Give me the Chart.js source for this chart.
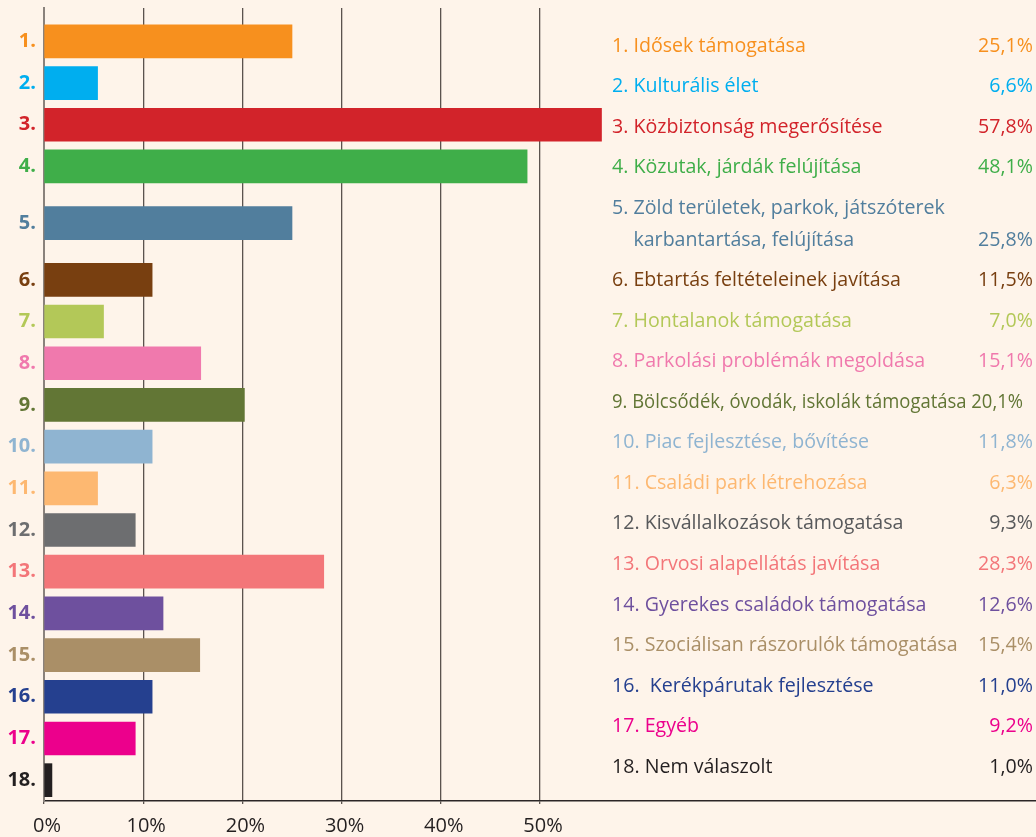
<!DOCTYPE html>
<html lang="hu">
<head>
<meta charset="utf-8">
<title>Fejlesztési igények</title>
<script src="https://cdn.jsdelivr.net/npm/chart.js@4.4.1/dist/chart.umd.min.js"></script>
<style>
    html, body { margin: 0; padding: 0; background: #fef4ea; }
    #wrap { position: relative; width: 1036px; height: 837px; }
</style>
</head>
<body>
<div id="wrap"><canvas id="surveyChart"></canvas></div>
<script>
// Row labels on the left axis
const rowLabels = ['1.', '2.', '3.', '4.', '5.', '6.', '7.', '8.', '9.', '10.',
    '11.', '12.', '13.', '14.', '15.', '16.', '17.', '18.'];

// Bar lengths as drawn (percent)
const barValues = [25.0, 5.4, 56.2, 48.7, 25.0, 10.9, 6.0, 15.8, 20.2, 10.9,
    5.4, 9.2, 28.2, 12.0, 15.7, 10.9, 9.2, 0.8];

// Legend texts (one entry per line) and the printed percentages
const legendNames = [
    ['1. Idősek támogatása'],
    ['2. Kulturális élet'],
    ['3. Közbiztonság megerősítése'],
    ['4. Közutak, járdák felújítása'],
    ['5. Zöld területek, parkok, játszóterek', 'karbantartása, felújítása'],
    ['6. Ebtartás feltételeinek javítása'],
    ['7. Hontalanok támogatása'],
    ['8. Parkolási problémák megoldása'],
    ['9. Bölcsődék, óvodák, iskolák támogatása'],
    ['10. Piac fejlesztése, bővítése'],
    ['11. Családi park létrehozása'],
    ['12. Kisvállalkozások támogatása'],
    ['13. Orvosi alapellátás javítása'],
    ['14. Gyerekes családok támogatása'],
    ['15. Szociálisan rászorulók támogatása'],
    ['16.  Kerékpárutak fejlesztése'],
    ['17. Egyéb'],
    ['18. Nem válaszolt']
];
const legendValues = [25.1, 6.6, 57.8, 48.1, 25.8, 11.5, 7.0, 15.1, 20.1, 11.8,
    6.3, 9.3, 28.3, 12.6, 15.4, 11.0, 9.2, 1.0];

const xTicks = [0, 10, 20, 30, 40, 50];

const colors = ['#f7901e', '#00aeef', '#d2232a', '#3fae49', '#517e9d', '#783f10',
    '#b3c858', '#f079ad', '#627635', '#8fb4d1', '#fdb871', '#6d6e70',
    '#f37679', '#6e509e', '#aa8f67', '#25408f', '#ec008c', '#231f20'];
const textColors = colors.map(function (c, i) {
    return i === 11 ? '#58595b' : c;
});

const fontFamily = '"Open Sans", "Noto Sans", sans-serif';

// a wrapped legend item makes its bar row a bit taller
const wrapExtra = 0.72;
const rowPos = [];
let rowTotal = 0;
legendNames.forEach(function (lines) {
    const h = 1 + (lines.length - 1) * wrapExtra;
    rowPos.push(rowTotal + h / 2);
    rowTotal += h;
});

const fmt = function (v) {
    return v.toFixed(1).replace('.', ',') + '%';
};

const legendPlugin = {
    id: 'sideLegend',
    afterDraw: function (chart) {
        const ctx = chart.ctx;
        const left = 612;
        const right = 1033;
        const rowStep = 40.55;
        const lineStep = 31.6;
        let y = 45;

        ctx.save();
        ctx.font = '19.6px ' + fontFamily;
        ctx.textBaseline = 'alphabetic';
        legendNames.forEach(function (lines, i) {
            ctx.fillStyle = textColors[i];
            const value = fmt(legendValues[i]);
            const indent = ctx.measureText(lines[0].split(' ')[0] + ' ').width;
            lines.forEach(function (line, k) {
                const x = k === 0 ? left : left + indent;
                const base = y + k * lineStep + 6.8;
                const last = k === lines.length - 1;
                ctx.textAlign = 'left';
                if (!last) {
                    ctx.fillText(line, x, base);
                    return;
                }
                const nameW = ctx.measureText(line).width;
                const valW = ctx.measureText(value).width;
                if (x + nameW + 12 > right - valW) {
                    // too long: run name and value together, squeezed
                    ctx.fillText(line + ' ' + value, x, base, right - 10 - x);
                } else {
                    ctx.fillText(line, x, base);
                    ctx.textAlign = 'right';
                    ctx.fillText(value, right, base);
                }
            });
            y += (lines.length - 1) * lineStep + rowStep;
        });
        ctx.restore();
    }
};

new Chart(document.getElementById('surveyChart'), {
    type: 'bar',
    data: {
        datasets: [{
            data: barValues.map(function (v, i) {
                return { x: v, y: rowPos[i] };
            }),
            backgroundColor: colors,
            borderWidth: 0,
            barThickness: 33
        }]
    },
    options: {
        indexAxis: 'y',
        responsive: true,
        maintainAspectRatio: false,
        animation: false,
        layout: { padding: { top: 8, right: 0, left: 0, bottom: 0 } },
        plugins: {
            legend: { display: false },
            tooltip: { enabled: false }
        },
        scales: {
            x: {
                type: 'linear',
                min: 0,
                max: 100,
                offset: false,
                afterBuildTicks: function (scale) {
                    scale.ticks = xTicks.map(function (v) { return { value: v }; });
                },
                afterFit: function (scale) {
                    scale.height = 36;
                },
                grid: {
                    color: '#5b534e',
                    lineWidth: 1.3,
                    tickLength: 3
                },
                border: { color: '#2b2626', width: 1.5 },
                ticks: {
                    padding: 10,
                    labelOffset: 3,
                    color: '#231f20',
                    font: { family: fontFamily, size: 20 },
                    callback: function (v) { return v + '%'; }
                }
            },
            y: {
                type: 'linear',
                reverse: true,
                offset: false,
                min: -0.3,
                max: rowTotal,
                afterBuildTicks: function (scale) {
                    scale.ticks = rowPos.map(function (v) { return { value: v }; });
                },
                afterFit: function (scale) {
                    scale.width = 44;
                    scale.paddingTop = 0;
                    scale.paddingBottom = 0;
                },
                grid: { display: false, drawTicks: false },
                border: { color: '#8a827c', width: 2 },
                ticks: {
                    padding: 8,
                    autoSkip: false,
                    color: function (c) { return colors[c.index]; },
                    font: { family: fontFamily, size: 20, weight: 'bold' },
                    callback: function (v, i) { return rowLabels[i]; }
                }
            }
        }
    },
    plugins: [legendPlugin]
});
</script>
</body>
</html>
